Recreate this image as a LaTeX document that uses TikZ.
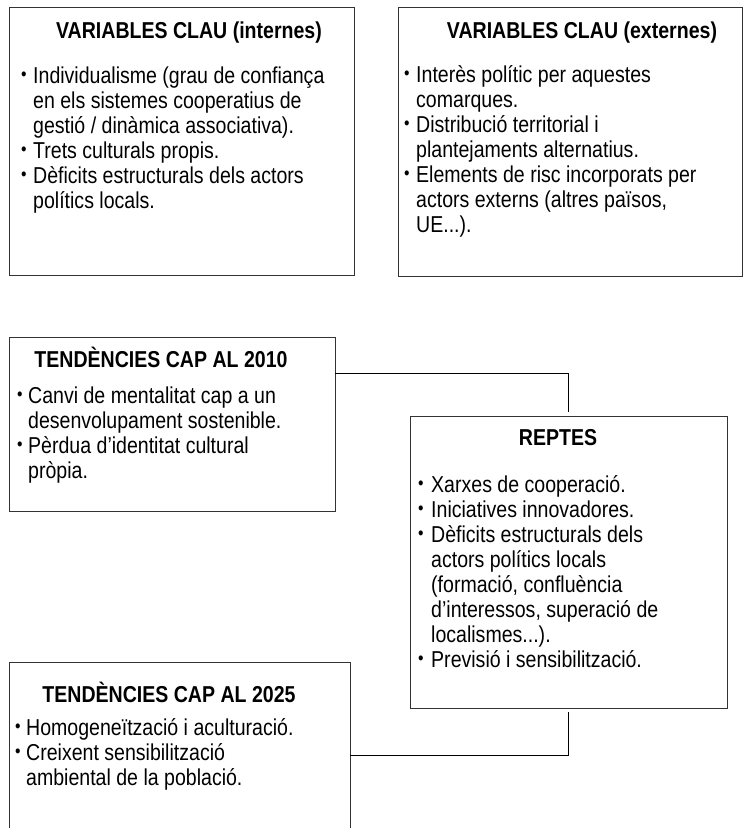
\documentclass[tikz,border=0pt]{standalone}
\usepackage{fontspec}
\setmainfont{Liberation Sans}[FakeStretch=0.85]
\usepackage{tikz}
\usetikzlibrary{%
  calc,%
  positioning%
}
\tikzset{>=latex}
\tikzset{
  panel/.style={draw=black!80,line width=0.9pt,rectangle,inner sep=0pt},
  head/.style={anchor=base,inner sep=0pt,font=\fontsize{23}{25}\selectfont\bfseries},
  items/.style={anchor=base west,inner sep=0pt,font=\fontsize{23}{25}\selectfont},
  link/.style={draw=black,line width=0.8pt}
}
\newcommand{\bul}[1][11pt]{\makebox[#1][l]{\raisebox{0.2ex}{\scalebox{0.8}{\textbullet}}}}

\begin{document}
\begin{tikzpicture}[x=1pt,y=-1pt]
    \clip (0,0) rectangle (744,828);
    % boxes
    \node[panel,minimum width=345pt,minimum height=268pt] (intern) at (181.5,141) {};
    \node[panel,minimum width=344pt,minimum height=269pt] (extern) at (570,141.5) {};
    \node[panel,minimum width=326pt,minimum height=174pt] (t2010) at (172,424) {};
    \node[panel,minimum width=317pt,minimum height=292pt] (reptes) at (568.5,562) {};
    \node[panel,minimum width=341pt,minimum height=238pt] (t2025) at (179.5,781) {};
    % titles
    \node[head] (intern-h) at (189,38) {VARIABLES CLAU (internes)};
    \node[head] (extern-h) at (582,38) {VARIABLES CLAU (externes)};
    \node[head] (t2010-h) at (161,367) {TENDÈNCIES CAP AL 2010};
    \node[head] (reptes-h) at (558,445) {REPTES};
    \node[head] (t2025-h) at (169,702) {TENDÈNCIES CAP AL 2025};
    % lists
    \node[items] (intern-l) at (21,83) {\begin{tabular}[t]{@{}l@{}l@{}}
      \bul[12pt] & Individualisme (grau de confiança\\
      & en els sistemes cooperatius de\\
      & gestió / dinàmica associativa).\\
      \bul[12pt] & Trets culturals propis.\\
      \bul[12pt] & Dèficits estructurals dels actors\\
      & polítics locals.
    \end{tabular}};
    \node[items] (extern-l) at (404,82) {\begin{tabular}[t]{@{}l@{}l@{}}
      \bul[12pt] & Interès polític per aquestes\\
      & comarques.\\
      \bul[12pt] & Distribució territorial i\\
      & plantejaments alternatius.\\
      \bul[12pt] & Elements de risc incorporats per\\
      & actors externs (altres països,\\
      & UE...).
    \end{tabular}};
    \node[items] (t2010-l) at (17,403) {\begin{tabular}[t]{@{}l@{}l@{}}
      \bul & Canvi de mentalitat cap a un\\
      & desenvolupament sostenible.\\
      \bul & Pèrdua d’identitat cultural\\
      & pròpia.
    \end{tabular}};
    \node[items] (reptes-l) at (418,492) {\begin{tabular}[t]{@{}l@{}l@{}}
      \bul[13pt] & Xarxes de cooperació.\\
      \bul[13pt] & Iniciatives innovadores.\\
      \bul[13pt] & Dèficits estructurals dels\\
      & actors polítics locals\\
      & (formació, confluència\\
      & d’interessos, superació de\\
      & localismes...).\\
      \bul[13pt] & Previsió i sensibilització.
    \end{tabular}};
    \node[items] (t2025-l) at (15,735) {\begin{tabular}[t]{@{}l@{}l@{}}
      \bul & Homogeneïtzació i aculturació.\\
      \bul & Creixent sensibilització\\
      & ambiental de la població.
    \end{tabular}};
    % connectors
    \draw[link,shorten >=4pt] (t2010.north east) ++(0,37) -| (reptes.north);
    \draw[link,shorten <=4pt] (reptes.south) |- ($(t2025.north east)+(0,94)$);
\end{tikzpicture}
\end{document}
